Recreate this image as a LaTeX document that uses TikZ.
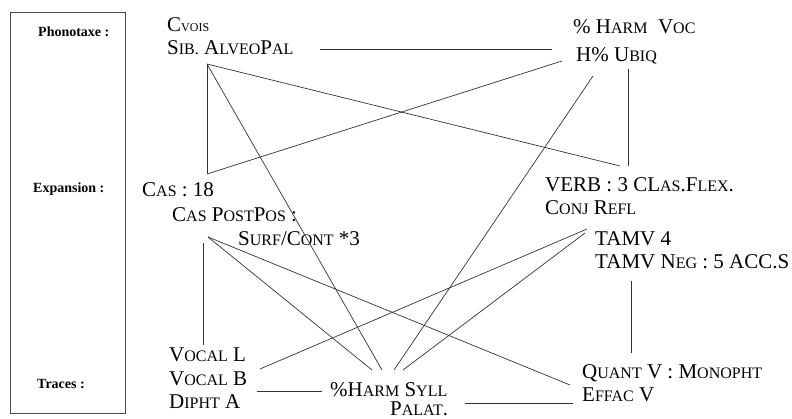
\documentclass[tikz,border=0pt]{standalone}
\usepackage{fontspec}
\setmainfont{Liberation Serif}
\usepackage{tikz}
\usetikzlibrary{positioning}

% small capitals, as the picture fakes them
\newcommand{\smc}[1]{{\fontsize{16}{17}\selectfont #1}}
\newcommand{\vsmc}[1]{{\fontsize{12}{12}\selectfont #1}}

\tikzset{
  lbl/.style={anchor=base west, inner sep=0pt, font=\fontsize{21}{22}\selectfont},
  lvl/.style={anchor=base west, inner sep=0pt, font=\fontsize{14}{15}\selectfont\bfseries},
  lnk/.style={line width=0.7pt, black!80},
}

\begin{document}
\begin{tikzpicture}[x=1pt, y=-1pt]
    \useasboundingbox (0,0) rectangle (792,419);
    \node[draw, line width=1pt, gray!60!black, minimum width=115pt, minimum height=401pt, anchor=north west, inner sep=0pt] (box) at (10,12) {};
    \node[lvl] (phono) at (38,37) {Phonotaxe :};
    \node[lvl] (expan) at (33,193) {Expansion :};
    \node[lvl] (trace) at (37,388) {Traces :};

    % phonotaxe
    \node[lbl] (cvois) at (167,32) {C\vsmc{VOIS}};
    \node[lbl] (sib) at (167,55) {S\smc{IB.} A\smc{LVEO}P\smc{AL}};
    \node[lbl] (harmvoc) at (573,34) {\% H\smc{ARM}\ \ V\smc{OC}};
    \node[lbl] (ubiq) at (576,62) {H\% U\smc{BIQ}};

    % expansion
    \node[lbl] (cas) at (142,197) {C\smc{AS} : 18};
    \node[lbl] (postpos) at (172,222) {C\smc{AS} P\smc{OST}P\smc{OS} :};
    \node[lbl] (surf) at (238,246) {S\smc{URF}/C\smc{ONT} *3};
    \node[lbl] (verb) at (545,192) {VERB : 3 CL\smc{AS}.F\smc{LEX}.};
    \node[lbl] (conj) at (545,215) {C\smc{ONJ} R\smc{EFL}};
    \node[lbl] (tamv) at (595,246) {TAMV 4};
    \node[lbl] (tamvneg) at (595,269) {TAMV N\smc{EG} : 5 ACC.S};

    % traces
    \node[lbl] (vocall) at (169,362) {V\smc{OCAL} L};
    \node[lbl] (vocalb) at (169,385) {V\smc{OCAL} B};
    \node[lbl] (dipht) at (169,408) {D\smc{IPHT} A};
    \node[lbl] (syll) at (330,396) {\%H\smc{ARM} S\smc{YLL}};
    \node[lbl] (palat) at (390,415) {P\smc{ALAT}.};
    \node[lbl] (quant) at (582,378) {Q\smc{UANT} V : M\smc{ONOPHT}};
    \node[lbl] (effac) at (582,401) {E\smc{FFAC} V};

    % ends of the connectors
    \coordinate (sibR) at ([shift={(153,-6)}]sib.base west);
    \coordinate (sibB) at ([shift={(40,9)}]sib.base west);
    \coordinate (voc) at ([shift={(-21,15)}]harmvoc.base west);
    \coordinate (ubiqL) at ([shift={(-14,-1)}]ubiq.base west);
    \coordinate (ubiqB) at ([shift={(17,14)}]ubiq.base west);
    \coordinate (ubiqV) at ([shift={(52,7)}]ubiq.base west);
    \coordinate (casT) at ([shift={(65,-23)}]cas.base west);
    \coordinate (verbT) at ([shift={(75,-26)}]verb.base west);
    \coordinate (verbV) at ([shift={(83,-26)}]verb.base west);
    \coordinate (postB) at ([shift={(36,15)}]postpos.base west);
    \coordinate (postV) at ([shift={(31,21)}]postpos.base west);
    \coordinate (tamvA) at ([shift={(-8,-17)}]tamv.base west);
    \coordinate (tamvB) at ([shift={(-10,-13)}]tamv.base west);
    \coordinate (negB) at ([shift={(36,12)}]tamvneg.base west);
    \coordinate (vocT) at ([shift={(34,-17)}]vocall.base west);
    \coordinate (vocR) at ([shift={(91,-16)}]vocalb.base west);
    \coordinate (diphR) at ([shift={(88,-17)}]dipht.base west);
    \coordinate (syllL) at ([shift={(-8,-5)}]syll.base west);
    \coordinate (syllR) at ([shift={(135,7)}]syll.base west);
    \coordinate (syllA) at ([shift={(42,-26)}]syll.base west);
    \coordinate (syllB) at ([shift={(52,-26)}]syll.base west);
    \coordinate (syllC) at ([shift={(64,-26)}]syll.base west);
    \coordinate (syllD) at ([shift={(73,-26)}]syll.base west);
    \coordinate (quantT) at ([shift={(49,-25)}]quant.base west);
    \coordinate (effacL) at ([shift={(-12,-16)}]effac.base west);
    \coordinate (effacH) at ([shift={(-9,2)}]effac.base west);

    \draw[lnk] (sibR) -- (voc);
    \draw[lnk] (sibB) -- (casT);
    \draw[lnk] (sibB) -- (verbT);
    \draw[lnk] (sibB) -- (syllB);
    \draw[lnk] (casT) -- (ubiqL);
    \draw[lnk] (ubiqB) -- (syllC);
    \draw[lnk] (ubiqV) -- (verbV);
    \draw[lnk] (postV) -- (vocT);
    \draw[lnk] (postB) -- (syllA);
    \draw[lnk] (postB) -- (effacL);
    \draw[lnk] (vocR) -- (tamvA);
    \draw[lnk] (syllD) -- (tamvB);
    \draw[lnk] (diphR) -- (syllL);
    \draw[lnk] (syllR) -- (effacH);
    \draw[lnk] (negB) -- (quantT);
\end{tikzpicture}
\end{document}
